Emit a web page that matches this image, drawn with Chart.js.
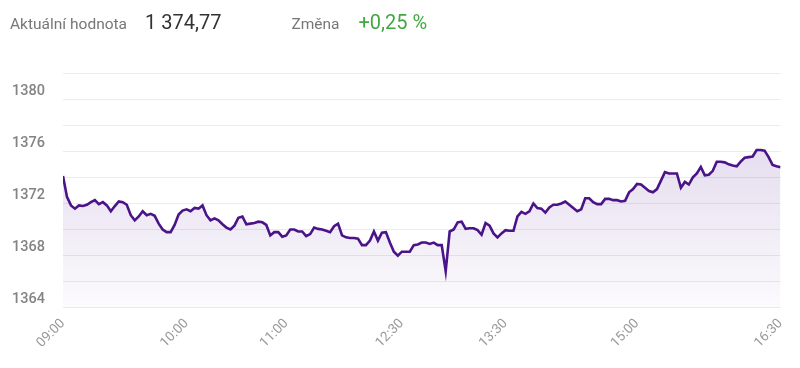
<!DOCTYPE html>
<html lang="cs">
<head>
<meta charset="utf-8">
<title>Aktuální hodnota</title>
<script src="https://cdn.jsdelivr.net/npm/chart.js@4/dist/chart.umd.min.js"></script>
<style>
    html, body {
        margin: 0;
        padding: 0;
        background: #fff;
        font-family: Roboto, "Liberation Sans", Arial, sans-serif;
    }
    .wrap {
        position: relative;
        width: 800px;
        height: 368px;
    }
    .header {
        position: absolute;
        top: 10px;
        left: 10px;
        display: flex;
        align-items: baseline;
        white-space: nowrap;
    }
    .label {
        font-size: 15.5px;
        color: #777;
    }
    .value {
        font-size: 20px;
        color: #333;
        margin-left: 18px;
    }
    .change {
        font-size: 20px;
        color: #43a843;
        margin-left: 19px;
    }
    #change-label {
        margin-left: 70px;
    }
    canvas {
        position: absolute;
        top: 0;
        left: 0;
    }
</style>
</head>
<body>
<div class="wrap">
    <canvas id="indexChart" width="800" height="368"></canvas>
    <div class="header">
        <span class="label">Aktuální hodnota</span>
        <span class="value" id="current-value">1 374,77</span>
        <span class="label" id="change-label">Změna</span>
        <span class="change" id="change-value">+0,25 %</span>
    </div>
</div>

<script>
const ctx = document.getElementById("indexChart");

// index values, one per sample along the trading day
const indexValues = [
    1374.1, 1372.5, 1371.85, 1371.6, 1371.85, 1371.8, 1371.9, 1372.1, 1372.25, 1371.95,
    1372.1, 1371.85, 1371.4, 1371.8, 1372.15, 1372.1, 1371.9, 1371.1, 1370.7, 1371.0,
    1371.4, 1371.1, 1371.2, 1371.05, 1370.45, 1370.0, 1369.8, 1369.8, 1370.35, 1371.15,
    1371.45, 1371.55, 1371.4, 1371.65, 1371.6, 1371.85, 1371.1, 1370.7, 1370.85, 1370.7,
    1370.4, 1370.15, 1370.0, 1370.3, 1370.9, 1371.0, 1370.4, 1370.45, 1370.5, 1370.6,
    1370.55, 1370.35, 1369.55, 1369.8, 1369.8, 1369.45, 1369.55, 1370.0, 1370.0, 1369.85,
    1369.85, 1369.5, 1369.65, 1370.15, 1370.05, 1370.0, 1369.9, 1369.8, 1370.25, 1370.45,
    1369.55, 1369.4, 1369.35, 1369.35, 1369.3, 1368.8, 1368.8, 1369.15, 1369.85, 1369.15,
    1369.75, 1369.8, 1369.0, 1368.3, 1368.0, 1368.3, 1368.3, 1368.3, 1368.8, 1368.85,
    1369.0, 1369.0, 1368.9, 1369.0, 1368.8, 1368.8, 1366.8, 1369.85, 1370.0, 1370.55,
    1370.6, 1370.05, 1370.1, 1370.1, 1369.95, 1369.6, 1370.5, 1370.3, 1369.7, 1369.4,
    1369.7, 1369.95, 1369.9, 1369.9, 1371.0, 1371.35, 1371.2, 1371.4, 1372.0, 1371.65,
    1371.6, 1371.3, 1371.7, 1371.9, 1371.9, 1372.0, 1372.15, 1371.9, 1371.65, 1371.4,
    1371.55, 1372.4, 1372.4, 1372.1, 1371.95, 1371.95, 1372.35, 1372.35, 1372.25, 1372.25,
    1372.15, 1372.2, 1372.85, 1373.1, 1373.5, 1373.45, 1373.2, 1372.95, 1372.85, 1373.1,
    1373.75, 1374.4, 1374.3, 1374.3, 1374.3, 1373.2, 1373.65, 1373.45, 1374.0, 1374.3,
    1374.8, 1374.15, 1374.2, 1374.5, 1375.2, 1375.2, 1375.15, 1375.0, 1374.9, 1374.85,
    1375.2, 1375.5, 1375.55, 1375.6, 1376.1, 1376.1, 1376.05, 1375.55, 1374.95, 1374.85,
    1374.77,
];

// time labels and the sample index where each one sits
const tickLabels = ["09:00", "10:00", "11:00", "12:30", "13:30", "15:00", "16:30"];
const tickIndex = [0, 31, 56, 85, 111, 144, 180];

const yMin = 1364;
const yMax = 1382;

const points = indexValues.map((v, i) => ({ x: i, y: v }));

// purple fade under the line
const makeFill = (context) => {
    const area = context.chart.chartArea;
    if (!area) return "rgba(74, 20, 140, 0.1)";
    const g = context.chart.ctx.createLinearGradient(0, area.top, 0, area.bottom);
    g.addColorStop(0, "rgba(74, 20, 140, 0.2)");
    g.addColorStop(1, "rgba(74, 20, 140, 0.02)");
    return g;
};

const indexChart = new Chart(ctx, {
    type: "line",
    data: {
        datasets: [
            {
                data: points,
                borderColor: "#4a1488",
                borderWidth: 2.6,
                backgroundColor: makeFill,
                fill: "start",
                pointRadius: 0,
                tension: 0,
            },
        ],
    },
    options: {
        responsive: false,
        animation: false,
        layout: {
            padding: { top: 73, right: 17, bottom: 9, left: 12 },
        },
        plugins: {
            legend: { display: false },
            tooltip: { enabled: false },
        },
        scales: {
            x: {
                type: "linear",
                min: 0,
                max: indexValues.length - 1,
                afterBuildTicks: (scale) => {
                    scale.ticks = tickIndex.map((v) => ({ value: v }));
                },
                ticks: {
                    autoSkip: false,
                    minRotation: 45,
                    maxRotation: 45,
                    padding: 8,
                    color: "#9a9a9a",
                    font: { family: "Roboto", size: 13.5 },
                    callback: (value) => {
                        const k = tickIndex.indexOf(value);
                        return k >= 0 ? tickLabels[k] : "";
                    },
                },
                grid: { display: false, drawTicks: false },
                border: { display: false },
            },
            y: {
                min: yMin,
                max: yMax,
                afterFit: (scale) => {
                    scale.width = 51;
                },
                ticks: {
                    stepSize: 2,
                    crossAlign: "far",
                    labelOffset: -8,
                    color: "#838383",
                    font: { family: "Roboto", size: 14.5, weight: "500" },
                    callback: (value) =>
                        (value - yMin) % 4 === 0 && value < yMax ? String(value) : "",
                },
                grid: { color: "#ebebf1", lineWidth: 1, drawTicks: false },
                border: { display: false },
            },
        },
    },
});
</script>
</body>
</html>
